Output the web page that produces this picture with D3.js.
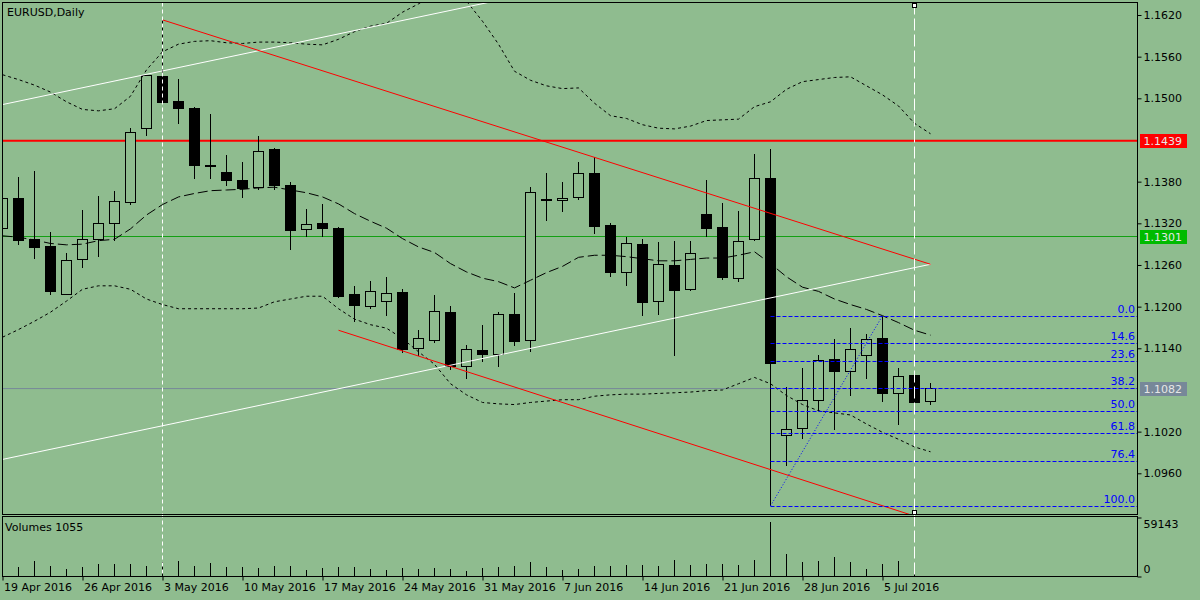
<!DOCTYPE html>
<html>
<head>
<meta charset="utf-8">
<title>EURUSD,Daily</title>
<script src="https://d3js.org/d3.v7.min.js"></script>
<style>
    body { margin: 0; background: #8fbc8f; }
    svg { display: block; font-family: "DejaVu Sans", sans-serif; font-size: 11px; }
    .axis path { display: none; }
    .axis line { stroke: #000; }
    .axis text { fill: #000; font-size: 11px; font-family: "DejaVu Sans", sans-serif; }
</style>
</head>
<body>
<svg width="1200" height="600"></svg>
<script>
// trading days shown on the chart
const dates = [
    "2016-04-19","2016-04-20","2016-04-21","2016-04-22",
    "2016-04-25","2016-04-26","2016-04-27","2016-04-28","2016-04-29",
    "2016-05-02","2016-05-03","2016-05-04","2016-05-05","2016-05-06",
    "2016-05-09","2016-05-10","2016-05-11","2016-05-12","2016-05-13",
    "2016-05-16","2016-05-17","2016-05-18","2016-05-19","2016-05-20",
    "2016-05-23","2016-05-24","2016-05-25","2016-05-26","2016-05-27",
    "2016-05-30","2016-05-31","2016-06-01","2016-06-02","2016-06-03",
    "2016-06-06","2016-06-07","2016-06-08","2016-06-09","2016-06-10",
    "2016-06-13","2016-06-14","2016-06-15","2016-06-16","2016-06-17",
    "2016-06-20","2016-06-21","2016-06-22","2016-06-23","2016-06-24",
    "2016-06-27","2016-06-28","2016-06-29","2016-06-30","2016-07-01",
    "2016-07-04","2016-07-05","2016-07-06","2016-07-07","2016-07-08"
];

const open = [1.1313,1.1356,1.1296,1.1287,1.1218,1.1268,1.1297,1.1320,1.1350,1.1457,
    1.1532,1.1496,1.1486,1.1403,1.1393,1.1382,1.1372,1.1426,1.1375,1.1311,
    1.1320,1.1312,1.1217,1.1200,1.1207,1.1221,1.1140,1.1151,1.1192,1.1114,
    1.1137,1.1131,1.1188,1.1151,1.1355,1.1353,1.1357,1.1392,1.1317,1.1249,
    1.1290,1.1207,1.1259,1.1225,1.1332,1.1314,1.1241,1.1296,1.1385,1.1014,
    1.1025,1.1065,1.1124,1.1107,1.1130,1.1154,1.1075,1.1101,1.1063];
const high = [1.1365,1.1387,1.1395,1.1307,1.1277,1.1339,1.1359,1.1367,1.1457,1.1533,
    1.1613,1.1528,1.1488,1.1478,1.1418,1.1408,1.1446,1.1428,1.1379,1.1341,
    1.1348,1.1314,1.1230,1.1237,1.1243,1.1226,1.1166,1.1217,1.1201,1.1145,
    1.1174,1.1193,1.1219,1.1372,1.1392,1.1380,1.1409,1.1416,1.1320,1.1301,
    1.1297,1.1293,1.1295,1.1295,1.1382,1.1349,1.1338,1.1420,1.1427,1.1084,
    1.1112,1.1130,1.1154,1.1169,1.1161,1.1187,1.1111,1.1107,1.1090];
const low = [1.1308,1.1289,1.1269,1.1217,1.1217,1.1255,1.1271,1.1294,1.1347,1.1446,
    1.1493,1.1463,1.1384,1.1384,1.1374,1.1357,1.1368,1.1368,1.1281,1.1300,
    1.1300,1.1213,1.1178,1.1196,1.1187,1.1133,1.1129,1.1148,1.1109,1.1096,
    1.1120,1.1113,1.1144,1.1135,1.1324,1.1336,1.1354,1.1304,1.1243,1.1230,
    1.1187,1.1188,1.1129,1.1222,1.1300,1.1238,1.1236,1.1294,1.0913,1.0971,
    1.1010,1.1050,1.1023,1.1072,1.1096,1.1062,1.1029,1.1052,1.1058];
const close = [1.1356,1.1295,1.1285,1.1222,1.1267,1.1296,1.1320,1.1351,1.1451,1.1533,
    1.1494,1.1485,1.1403,1.1402,1.1381,1.1370,1.1424,1.1375,1.1310,1.1319,
    1.1312,1.1214,1.1201,1.1222,1.1219,1.1139,1.1154,1.1193,1.1114,1.1139,
    1.1131,1.1188,1.1150,1.1365,1.1353,1.1356,1.1392,1.1315,1.1249,1.1291,
    1.1206,1.1260,1.1223,1.1277,1.1312,1.1242,1.1294,1.1385,1.1118,1.1023,
    1.1065,1.1123,1.1107,1.1139,1.1153,1.1075,1.1099,1.1062,1.1082];
const volume = [9700,9730,16200,10800,7900,10100,13300,13300,13700,11600,
    15100,17000,11600,14400,10100,10100,9000,10800,11600,6500,
    9000,10100,10100,7900,7200,9400,8600,9000,7900,5400,
    9000,10100,10800,15100,10100,7200,7900,10800,10800,11900,
    11900,10800,17300,11900,13000,13000,11900,18000,59143,23800,
    15100,17000,21300,15100,8300,13000,16200,13000,1055];

// Bollinger bands
const bbUpper = [1.1534,1.1527,1.1519,1.1509,1.1495,1.1484,1.1482,1.1485,1.1503,1.1541,
    1.1567,1.1578,1.1582,1.1583,1.1580,1.1579,1.1581,1.1581,1.1580,1.1578,
    1.1577,1.1585,1.1596,1.1604,1.1608,1.1624,1.1636,1.1650,1.1652,1.1640,
    1.1611,1.1578,1.1539,1.1526,1.1518,1.1514,1.1515,1.1493,1.1475,1.1471,
    1.1462,1.1457,1.1456,1.1460,1.1468,1.1469,1.1470,1.1488,1.1495,1.1513,
    1.1524,1.1527,1.1530,1.1531,1.1518,1.1505,1.1489,1.1464,1.1449];
const bbMiddle = [1.1302,1.1300,1.1296,1.1291,1.1289,1.1290,1.1295,1.1297,1.1312,1.1332,
    1.1347,1.1358,1.1363,1.1367,1.1368,1.1369,1.1371,1.1372,1.1368,1.1364,
    1.1358,1.1348,1.1334,1.1323,1.1313,1.1298,1.1286,1.1278,1.1262,1.1250,
    1.1241,1.1236,1.1227,1.1238,1.1249,1.1258,1.1271,1.1274,1.1274,1.1272,
    1.1269,1.1266,1.1266,1.1268,1.1270,1.1270,1.1274,1.1279,1.1262,1.1243,
    1.1228,1.1222,1.1211,1.1203,1.1196,1.1187,1.1177,1.1166,1.1159];
const bbLower = [1.1156,1.1167,1.1179,1.1192,1.1208,1.1225,1.1230,1.1230,1.1225,1.1211,
    1.1203,1.1197,1.1197,1.1197,1.1197,1.1197,1.1198,1.1207,1.1211,1.1215,
    1.1215,1.1197,1.1182,1.1174,1.1169,1.1154,1.1135,1.1117,1.1089,1.1073,
    1.1062,1.1060,1.1059,1.1062,1.1064,1.1066,1.1066,1.1071,1.1073,1.1074,
    1.1074,1.1075,1.1076,1.1077,1.1079,1.1080,1.1089,1.1098,1.1089,1.1072,
    1.1059,1.1050,1.1047,1.1044,1.1031,1.1019,1.1009,1.0998,1.0991];

// drawn objects: [bar index, price]
const redUpper = [[10, 1.1613], [58, 1.1261]];
const redLower = [[21, 1.1166], [58, 1.0891]];
const whiteLower = [[0, 1.0980], [58, 1.1261]];
const whiteUpper = [[0, 1.1491], [58, 1.1772]];
const hLinePrices = [1.1439, 1.1301, 1.1082];
const vLineIdx = [10, 57];
const fibLevels = [0, 14.6, 23.6, 38.2, 50, 61.8, 76.4, 100];
const fibLowIdx = 48, fibHighIdx = 55;

// axis ticks
const priceTicks = [1.1620, 1.1560, 1.1500, 1.1380, 1.1320, 1.1260, 1.1200, 1.1140, 1.1020, 1.0960];
const dateTickIdx = [0, 5, 10, 15, 20, 25, 30, 35, 40, 45, 50, 55];
const volTicks = [0, 59143];

const bg = "#8fbc8f";
const plotLeft = 2.5, plotRight = 1137.5, plotTop = 2.5, plotBottom = 514.5;
const volTop = 516.5, volBottom = 576.5;

const parseDate = d3.timeParse("%Y-%m-%d");
const fmtDate = d3.timeFormat("%-d %b %Y");

const svg = d3.select("svg");
svg.append("rect").attr("width", 1200).attr("height", 600).attr("fill", bg);

const x = d3.scaleLinear().domain([0, 58]).range([2.5, 930.5]);
const y = d3.scaleLinear().domain([1.0960, 1.1620]).range([473.3, 15]);
const yVol = d3.scaleLinear().domain([0, 59143]).range([volBottom, 521.5]);
const idx = d3.range(dates.length);

svg.append("defs").append("clipPath").attr("id", "clipMain")
    .append("rect")
    .attr("x", plotLeft).attr("y", plotTop)
    .attr("width", plotRight - plotLeft).attr("height", plotBottom - plotTop);

const main = svg.append("g").attr("clip-path", "url(#clipMain)");

// horizontal levels
const hColors = ["#ff0000", "#13a013", "#778899"];
const hWidths = [2, 1, 1];
main.selectAll(".hline")
    .data(hLinePrices)
    .enter().append("line")
    .attr("class", "hline")
    .attr("x1", plotLeft).attr("x2", plotRight)
    .attr("y1", d => y(d)).attr("y2", d => y(d))
    .attr("stroke", (d, i) => hColors[i])
    .attr("stroke-width", (d, i) => hWidths[i]);

// candles
main.selectAll(".wick")
    .data(idx)
    .enter().append("line")
    .attr("class", "wick")
    .attr("x1", i => x(i)).attr("x2", i => x(i))
    .attr("y1", i => y(high[i])).attr("y2", i => y(low[i]))
    .attr("stroke", "#000")
    .attr("shape-rendering", "crispEdges");

main.selectAll(".body")
    .data(idx)
    .enter().append("rect")
    .attr("class", "body")
    .attr("x", i => x(i) - 5)
    .attr("width", 10)
    .attr("y", i => y(Math.max(open[i], close[i])))
    .attr("height", i => Math.max(1, Math.abs(y(open[i]) - y(close[i]))))
    .attr("fill", i => close[i] >= open[i] ? bg : "#000")
    .attr("stroke", "#000")
    .attr("shape-rendering", "crispEdges");

// bollinger bands
const bandLine = d3.line().x((d, i) => x(i)).y(d => y(d));
[[bbUpper, "3,3"], [bbMiddle, "10,4"], [bbLower, "3,3"]].forEach(([vals, dash]) => {
    main.append("path")
        .attr("d", bandLine(vals))
        .attr("fill", "none")
        .attr("stroke", "#000")
        .attr("stroke-dasharray", dash);
});

// trend lines
const objLine = d3.line().x(d => x(d[0])).y(d => y(d[1]));
[[whiteUpper, "#fff"], [whiteLower, "#fff"], [redUpper, "#ff0000"], [redLower, "#ff0000"]].forEach(([pts, col]) => {
    main.append("path")
        .attr("d", objLine(pts))
        .attr("fill", "none")
        .attr("stroke", col);
});

// fibonacci retracement
const fibHi = high[fibHighIdx], fibLo = low[fibLowIdx];
const fibPrice = lv => fibHi - (fibHi - fibLo) * lv / 100;
main.selectAll(".fib")
    .data(fibLevels)
    .enter().append("line")
    .attr("class", "fib")
    .attr("x1", x(fibLowIdx)).attr("x2", plotRight)
    .attr("y1", d => Math.round(y(fibPrice(d))) + 0.5)
    .attr("y2", d => Math.round(y(fibPrice(d))) + 0.5)
    .attr("stroke", "#0000ff")
    .attr("stroke-dasharray", "4,2");
main.append("line")
    .attr("x1", x(fibLowIdx)).attr("y1", y(fibLo))
    .attr("x2", x(fibHighIdx)).attr("y2", y(fibHi))
    .attr("stroke", "#0000ff")
    .attr("stroke-dasharray", "1,2");
svg.selectAll(".fibLabel")
    .data(fibLevels)
    .enter().append("text")
    .attr("class", "fibLabel")
    .attr("x", 1135)
    .attr("y", d => Math.round(y(fibPrice(d))) - 3)
    .attr("text-anchor", "end")
    .attr("fill", "#0000ff")
    .text(d => d3.format(".1f")(d));

// volumes
svg.selectAll(".vol")
    .data(idx)
    .enter().append("line")
    .attr("class", "vol")
    .attr("x1", i => x(i)).attr("x2", i => x(i))
    .attr("y1", yVol(0)).attr("y2", i => yVol(volume[i]))
    .attr("stroke", "#000")
    .attr("shape-rendering", "crispEdges");

// vertical lines through both panels
const vDash = ["4,3", "12,4"];
svg.selectAll(".vline")
    .data(vLineIdx)
    .enter().append("line")
    .attr("class", "vline")
    .attr("x1", d => x(d)).attr("x2", d => x(d))
    .attr("y1", plotTop).attr("y2", volBottom)
    .attr("stroke", "#fff")
    .attr("stroke-dasharray", (d, i) => vDash[i]);
[plotTop + 1, plotBottom - 4].forEach(py => {
    svg.append("rect")
        .attr("x", x(vLineIdx[1]) - 2).attr("y", py)
        .attr("width", 4).attr("height", 4)
        .attr("fill", "#fff").attr("stroke", "#000");
});

// frames
svg.append("rect")
    .attr("x", plotLeft).attr("y", plotTop)
    .attr("width", plotRight - plotLeft).attr("height", plotBottom - plotTop)
    .attr("fill", "none").attr("stroke", "#000");
svg.append("rect")
    .attr("x", plotLeft).attr("y", volTop)
    .attr("width", plotRight - plotLeft).attr("height", volBottom - volTop)
    .attr("fill", "none").attr("stroke", "#000");

// price axis
svg.append("g")
    .attr("class", "axis")
    .attr("transform", `translate(${plotRight},0)`)
    .call(d3.axisRight(y).tickValues(priceTicks).tickSize(4).tickPadding(2)
        .tickFormat(d3.format(".4f")));

// price labels on the axis
const boxColors = ["#ff0000", "#00bb00", "#778899"];
hLinePrices.forEach((p, i) => {
    svg.append("rect")
        .attr("x", 1140).attr("y", Math.round(y(p)) - 7)
        .attr("width", 47).attr("height", 14)
        .attr("fill", boxColors[i]);
    svg.append("text")
        .attr("x", 1143.5).attr("y", Math.round(y(p)) + 4)
        .attr("fill", "#e6e6e6")
        .text(d3.format(".4f")(p));
});

// volume axis
const volAxisScale = yVol.copy().range([volBottom, volTop + 1]);
const volAxis = svg.append("g")
    .attr("class", "axis")
    .attr("transform", `translate(${plotRight},0)`)
    .call(d3.axisRight(volAxisScale).tickValues(volTicks).tickSize(4).tickPadding(2)
        .tickFormat(d3.format("d")));
volAxis.selectAll("text").attr("dy", d => d === 0 ? "-0.4em" : "0.95em");

// date axis
const dateAxis = svg.append("g")
    .attr("class", "axis")
    .attr("transform", `translate(0,${volBottom})`)
    .call(d3.axisBottom(x).tickValues(dateTickIdx).tickSize(4).tickPadding(3)
        .tickFormat(i => fmtDate(parseDate(dates[i]))));
dateAxis.selectAll("text").attr("text-anchor", "start").attr("x", 1);

// titles
svg.append("text").attr("x", 7).attr("y", 16).attr("fill", "#000").text("EURUSD,Daily");
svg.append("text").attr("x", 5).attr("y", 531).attr("fill", "#000")
    .text(`Volumes ${volume[volume.length - 1]}`);
</script>
</body>
</html>
